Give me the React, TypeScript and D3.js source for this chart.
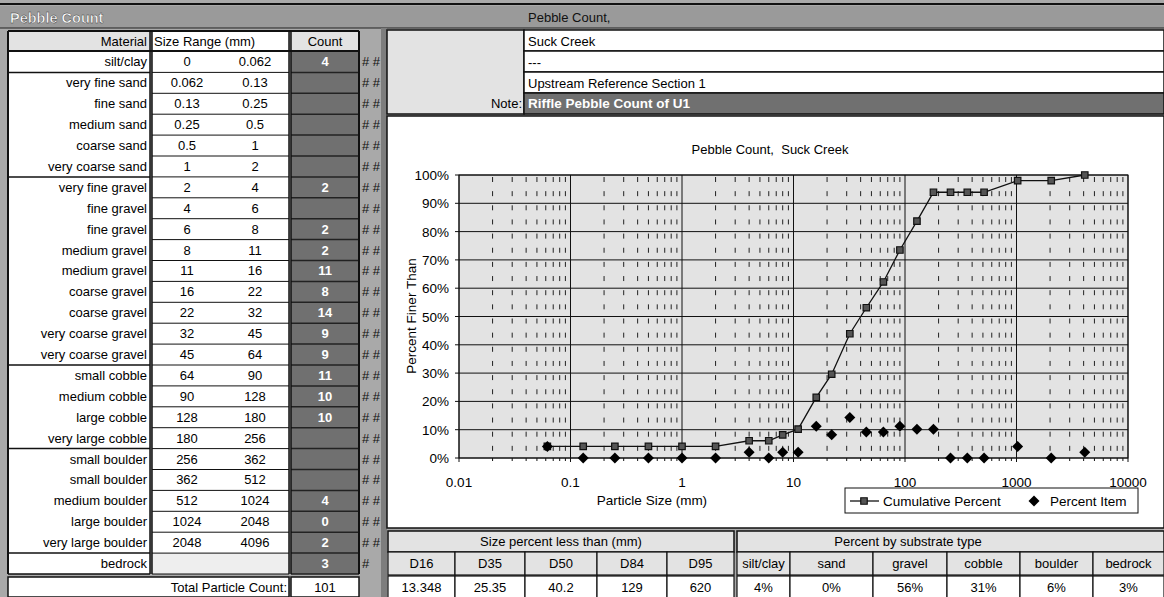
import React from 'react';
import * as d3 from 'd3';

// Pebble count table rows
const materials = [
  'silt/clay', 'very fine sand', 'fine sand', 'medium sand', 'coarse sand', 'very coarse sand',
  'very fine gravel', 'fine gravel', 'fine gravel', 'medium gravel', 'medium gravel',
  'coarse gravel', 'coarse gravel', 'very coarse gravel', 'very coarse gravel',
  'small cobble', 'medium cobble', 'large cobble', 'very large cobble',
  'small boulder', 'small boulder', 'medium boulder', 'large boulder', 'very large boulder', 'bedrock',
];
const sizeLow = ['0', '0.062', '0.13', '0.25', '0.5', '1', '2', '4', '6', '8', '11', '16', '22', '32', '45', '64', '90', '128', '180', '256', '362', '512', '1024', '2048', ''];
const sizeHigh = ['0.062', '0.13', '0.25', '0.5', '1', '2', '4', '6', '8', '11', '16', '22', '32', '45', '64', '90', '128', '180', '256', '362', '512', '1024', '2048', '4096', ''];
const counts = ['4', '', '', '', '', '', '2', '', '2', '2', '11', '8', '14', '9', '9', '11', '10', '10', '', '', '', '4', '0', '2', '3'];
const totalCount = '101';
// rows after which a material group ends
const groupEnds = [0, 5, 14, 18, 23, 24];

// Site info
const siteInfo = ['Suck Creek', '---', 'Upstream Reference Section 1'];
const noteText = 'Riffle Pebble Count of U1';

// Chart series (particle size = upper bound of class, mm)
const particleSizes = [0.062, 0.13, 0.25, 0.5, 1, 2, 4, 6, 8, 11, 16, 22, 32, 45, 64, 90, 128, 180, 256, 362, 512, 1024, 2048, 4096];
const cumulativePercent = [4.1, 4.1, 4.1, 4.1, 4.1, 4.1, 6.1, 6.1, 8.2, 10.2, 21.4, 29.6, 43.9, 53.1, 62.2, 73.5, 83.7, 93.9, 93.9, 93.9, 93.9, 98.0, 98.0, 100];
const percentItem = [4.1, 0, 0, 0, 0, 0, 2.0, 0, 2.0, 2.0, 11.2, 8.2, 14.3, 9.2, 9.2, 11.2, 10.2, 10.2, 0, 0, 0, 4.1, 0, 2.0];

const yTicks = [0, 10, 20, 30, 40, 50, 60, 70, 80, 90, 100];
const xTicks = [0.01, 0.1, 1, 10, 100, 1000, 10000];
const xTickLabels = ['0.01', '0.1', '1', '10', '100', '1000', '10000'];

// Summary tables
const dLabels = ['D16', 'D35', 'D50', 'D84', 'D95'];
const dValues = ['13.348', '25.35', '40.2', '129', '620'];
const substrateLabels = ['silt/clay', 'sand', 'gravel', 'cobble', 'boulder', 'bedrock'];
const substrateValues = ['4%', '0%', '56%', '31%', '6%', '3%'];

const FONT = '"Liberation Sans", Arial, sans-serif';
const BG = '#a9a9a9';
const LIGHT = '#e3e3e3';
const DARK = '#707070';

// Excel-style diamond marker (square rotated 45°)
const diamondPath = (r: number) => `M0,${-r}L${r},0L0,${r}L${-r},0Z`;

export default function App() {
  const W = 1164;
  const H = 597;

  const x = d3.scaleLog().domain([0.01, 10000]).range([459, 1128]);
  const y = d3.scaleLinear().domain([0, 100]).range([458, 175]);

  const minorX: number[] = [];
  for (let e = -2; e < 4; e++) {
    for (let m = 2; m <= 9; m++) minorX.push(m * Math.pow(10, e));
  }

  const rowTop = (i: number) => 51.5 + i * 20.9;
  const rowH = 20.9;

  const line = d3
    .line<number>()
    .x((_, i) => x(particleSizes[i]))
    .y((d) => y(d));

  const diamond = diamondPath(5.5);
  const square = d3.symbol().type(d3.symbolSquare).size(42)();

  // column layout for left table
  const matX0 = 8, matX1 = 150, sizeX0 = 152, sizeX1 = 289, cntX0 = 291, cntX1 = 359;

  // bottom tables
  const dCols = [388, 455, 525, 597, 667, 734];
  const sCols = [737, 790, 873, 947, 1020, 1093, 1164];

  return (
    <svg
      width={W}
      height={H}
      style={{ position: 'absolute', left: 0, top: 0, display: 'block' }}
      fontFamily={FONT}
      fontSize={13}
    >
      <rect x={0} y={0} width={W} height={H} fill={BG} />
      {/* top title band */}
      <rect x={0} y={6} width={W} height={22} fill="#9a9a9a" />
      <line x1={0} x2={W} y1={4} y2={4} stroke="#111" strokeWidth={2} />
      <line x1={0} x2={W} y1={28} y2={28} stroke="#222" strokeWidth={1} />
      <text x={10} y={23} fill="#fff" fontWeight="bold" fontSize={14.5} stroke="#333" strokeWidth={0.4}>
        Pebble Count
      </text>
      <text x={528} y={22} fill="#111">Pebble Count,</text>

      {/* divider strip between table and chart */}
      <rect x={381} y={28} width={6} height={H - 28} fill="#7d7d7d" />

      {/* ---------- left table ---------- */}
      <rect x={matX0} y={31} width={matX1 - matX0} height={20} fill={LIGHT} />
      <rect x={sizeX0} y={31} width={sizeX1 - sizeX0} height={20} fill="#fff" />
      <rect x={cntX0} y={31} width={cntX1 - cntX0} height={20} fill={LIGHT} />
      <text x={147} y={46} textAnchor="end">Material</text>
      <text x={154} y={46}>Size Range (mm)</text>
      <text x={325} y={46} textAnchor="middle">Count</text>

      <rect x={matX0} y={rowTop(0)} width={matX1 - matX0} height={rowH * 25} fill="#fff" />
      <rect x={sizeX0} y={rowTop(0)} width={sizeX1 - sizeX0} height={rowH * 24} fill="#fff" />
      <rect x={sizeX0} y={rowTop(24)} width={sizeX1 - sizeX0} height={rowH} fill="#eeeeee" />
      <rect x={cntX0} y={rowTop(0)} width={cntX1 - cntX0} height={rowH * 25} fill={DARK} />

      {materials.map((m, i) => {
        const cy = rowTop(i) + rowH / 2 + 4.5;
        return (
          <g key={'row' + i}>
            <text x={147} y={cy} textAnchor="end">{m}</text>
            <text x={187} y={cy} textAnchor="middle">{sizeLow[i]}</text>
            <text x={255} y={cy} textAnchor="middle">{sizeHigh[i]}</text>
            <text x={325} y={cy} textAnchor="middle" fill="#fff" fontWeight="bold">{counts[i]}</text>
            <text x={362} y={cy} fill="#111">{i === 24 ? '#' : '# #'}</text>
            <line x1={sizeX0} x2={sizeX1} y1={rowTop(i + 1)} y2={rowTop(i + 1)} stroke="#111" strokeWidth={1} />
            <line x1={cntX0} x2={cntX1} y1={rowTop(i + 1)} y2={rowTop(i + 1)} stroke="#222" strokeWidth={1.5} />
          </g>
        );
      })}
      {groupEnds.map((g) => (
        <line key={'ge' + g} x1={matX0} x2={matX1} y1={rowTop(g + 1)} y2={rowTop(g + 1)} stroke="#111" strokeWidth={1.5} />
      ))}
      <line x1={matX0} x2={cntX1} y1={51} y2={51} stroke="#111" strokeWidth={2} />
      <line x1={matX0} x2={cntX1} y1={31} y2={31} stroke="#111" strokeWidth={2} />
      {[matX0, matX1, sizeX0, sizeX1, cntX0, cntX1].map((cx, i) => (
        <line key={'vc' + i} x1={cx} x2={cx} y1={31} y2={rowTop(25)} stroke="#111" strokeWidth={i === 0 || i === 5 ? 2 : 1.5} />
      ))}
      {/* total row */}
      <rect x={matX0} y={577} width={cntX0 - matX0 - 2} height={20} fill="#fff" stroke="#111" strokeWidth={1.5} />
      <rect x={cntX0} y={577} width={cntX1 - cntX0} height={20} fill="#fff" stroke="#111" strokeWidth={1.5} />
      <text x={287} y={592} textAnchor="end">Total Particle Count:</text>
      <text x={325} y={592} textAnchor="middle">{totalCount}</text>

      {/* ---------- site header ---------- */}
      <rect x={387} y={30} width={137} height={84} fill={LIGHT} stroke="#111" strokeWidth={1.5} />
      {siteInfo.map((s, i) => (
        <g key={'si' + i}>
          <rect x={524} y={30 + i * 21} width={W - 524} height={21} fill="#fff" stroke="#111" strokeWidth={1.5} />
          <text x={528} y={45.5 + i * 21}>{s}</text>
        </g>
      ))}
      <rect x={524} y={93} width={W - 524} height={21} fill={DARK} stroke="#111" strokeWidth={1.5} />
      <text x={528} y={108} fill="#fff" fontWeight="bold" fontSize={13.5}>{noteText}</text>
      <text x={522} y={108} textAnchor="end">Note:</text>

      {/* ---------- chart ---------- */}
      <rect x={387} y={116} width={W - 387} height={412} fill="#fff" stroke="#111" strokeWidth={1.5} />
      <text x={770} y={154} textAnchor="middle" style={{ whiteSpace: 'pre' }}>Pebble Count,  Suck Creek</text>

      <rect x={x(0.01)} y={y(100)} width={x(10000) - x(0.01)} height={y(0) - y(100)} fill={LIGHT} />
      {minorX.map((v, i) => (
        <line
          key={'mx' + i}
          x1={x(v)}
          x2={x(v)}
          y1={y(100)}
          y2={y(0)}
          stroke="#222"
          strokeWidth={1}
          strokeDasharray="5 9.15"
          strokeDashoffset={-2}
        />
      ))}
      {yTicks.map((t) => (
        <g key={'yt' + t}>
          <line x1={x(0.01) - 4} x2={x(10000)} y1={y(t)} y2={y(t)} stroke="#111" strokeWidth={1} />
          <text x={449} y={y(t) + 5} textAnchor="end" fontSize={13.5}>{t + '%'}</text>
        </g>
      ))}
      {xTicks.map((t, i) => (
        <g key={'xt' + t}>
          <line x1={x(t)} x2={x(t)} y1={y(100)} y2={y(0) + 4} stroke="#111" strokeWidth={1} />
          <text x={x(t)} y={487} textAnchor="middle" fontSize={13.5}>{xTickLabels[i]}</text>
        </g>
      ))}
      {minorX.map((v, i) => (
        <line key={'mt' + i} x1={x(v)} x2={x(v)} y1={y(0)} y2={y(0) + 3} stroke="#111" strokeWidth={1} />
      ))}
      <rect x={x(0.01)} y={y(100)} width={x(10000) - x(0.01)} height={y(0) - y(100)} fill="none" stroke="#111" strokeWidth={1} />

      <text x={652} y={505} textAnchor="middle" fontSize={13.5}>Particle Size (mm)</text>
      <text transform="translate(416,316) rotate(-90)" textAnchor="middle" fontSize={13.5}>Percent Finer Than</text>

      <path d={line(cumulativePercent) || ''} fill="none" stroke="#111" strokeWidth={1.3} />
      {cumulativePercent.map((v, i) => (
        <path
          key={'sq' + i}
          d={square || ''}
          transform={`translate(${x(particleSizes[i])},${y(v)})`}
          fill="#555"
          stroke="#111"
          strokeWidth={1.2}
        />
      ))}
      {percentItem.map((v, i) => (
        <path key={'di' + i} d={diamond} transform={`translate(${x(particleSizes[i])},${y(v)})`} fill="#000" />
      ))}

      {/* legend */}
      <rect x={845} y={488} width={293} height={25} fill="#fff" stroke="#111" strokeWidth={1} />
      <line x1={850} x2={879} y1={501} y2={501} stroke="#111" strokeWidth={1.3} />
      <path d={square || ''} transform="translate(864,501)" fill="#555" stroke="#111" strokeWidth={1.2} />
      <text x={883} y={506} fontSize={13.5}>Cumulative Percent</text>
      <path d={diamond} transform="translate(1034,501)" fill="#000" />
      <text x={1050} y={506} fontSize={13.5}>Percent Item</text>

      {/* ---------- size percentile table ---------- */}
      <rect x={dCols[0]} y={531} width={dCols[5] - dCols[0]} height={21} fill={LIGHT} stroke="#111" strokeWidth={1.5} />
      <text x={561} y={546} textAnchor="middle">Size percent less than (mm)</text>
      {dLabels.map((l, i) => (
        <g key={'d' + i}>
          <rect x={dCols[i]} y={552} width={dCols[i + 1] - dCols[i]} height={23} fill={LIGHT} stroke="#111" strokeWidth={1.2} />
          <text x={(dCols[i] + dCols[i + 1]) / 2} y={568} textAnchor="middle">{l}</text>
          <rect x={dCols[i]} y={576} width={dCols[i + 1] - dCols[i]} height={22} fill="#fff" stroke="#111" strokeWidth={1.2} />
          <text x={(dCols[i] + dCols[i + 1]) / 2} y={592} textAnchor="middle">{dValues[i]}</text>
        </g>
      ))}

      {/* ---------- substrate table ---------- */}
      <rect x={sCols[0]} y={531} width={sCols[6] - sCols[0]} height={21} fill={LIGHT} stroke="#111" strokeWidth={1.5} />
      <text x={908} y={546} textAnchor="middle">Percent by substrate type</text>
      {substrateLabels.map((l, i) => (
        <g key={'s' + i}>
          <rect x={sCols[i]} y={552} width={sCols[i + 1] - sCols[i]} height={23} fill={LIGHT} stroke="#111" strokeWidth={1.2} />
          <text x={(sCols[i] + sCols[i + 1]) / 2} y={568} textAnchor="middle">{l}</text>
          <rect x={sCols[i]} y={576} width={sCols[i + 1] - sCols[i]} height={22} fill="#fff" stroke="#111" strokeWidth={1.2} />
          <text x={(sCols[i] + sCols[i + 1]) / 2} y={592} textAnchor="middle">{substrateValues[i]}</text>
        </g>
      ))}
    </svg>
  );
}
